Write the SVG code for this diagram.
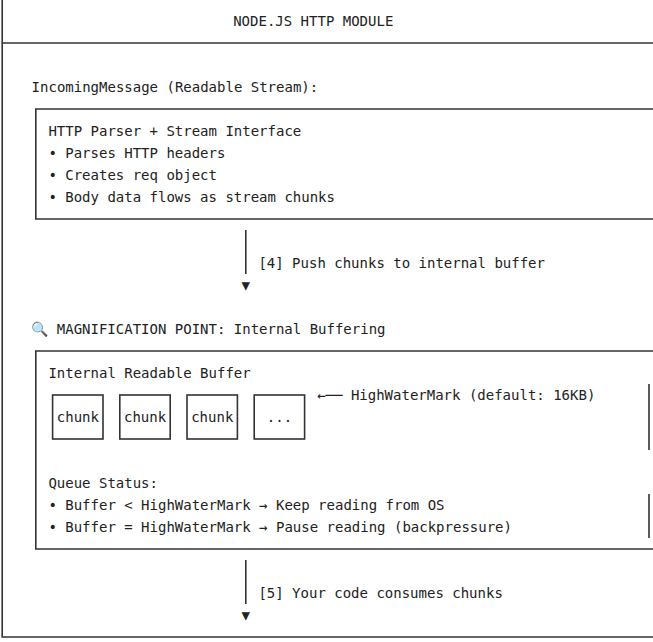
<svg xmlns="http://www.w3.org/2000/svg" width="653" height="642" viewBox="0 0 653 642">
  <style>
    .t { font-family: "DejaVu Sans Mono", "Liberation Mono", monospace; font-size: 14px; fill: #222; }
    .ln { stroke: #333; stroke-width: 1.6; fill: none; }
    .box { stroke: #333; stroke-width: 1.6; fill: none; }
  </style>
  <rect x="0" y="0" width="653" height="642" fill="#ffffff"/>

  <g id="frame">
    <path class="ln" d="M2.2 0 V637 H653"/>
    <path class="ln" d="M2.2 43 H653"/>
  </g>

  <g id="title">
    <text class="t" x="233.2" y="26">NODE.JS HTTP MODULE</text>
  </g>

  <g id="incoming-label">
    <text class="t" x="31.6" y="92">IncomingMessage (Readable Stream):</text>
  </g>

  <g id="parser-box">
    <path class="box" d="M655 109 H35.8 V219 H655"/>
    <text class="t" x="48.4" y="136">HTTP Parser + Stream Interface</text>
    <text class="t" x="48.4" y="158">• Parses HTTP headers</text>
    <text class="t" x="48.4" y="180">• Creates req object</text>
    <text class="t" x="48.4" y="202">• Body data flows as stream chunks</text>
  </g>

  <g id="magnification-label">
    <text class="t" x="31.6" y="334" style="font-family: 'Noto Color Emoji', 'DejaVu Sans', sans-serif;">🔍</text>
    <text class="t" x="56.8" y="334">MAGNIFICATION POINT: Internal Buffering</text>
  </g>

  <g id="buffer-box">
    <path class="box" d="M655 351 H35.8 V549 H655"/>
    <text class="t" x="48.4" y="378">Internal Readable Buffer</text>
    <path class="ln" d="M649 384 V450"/>
    <path class="ln" d="M649 494 V538"/>
    <text class="t" x="48.4" y="488">Queue Status:</text>
    <text class="t" x="48.4" y="510">• Buffer &lt; HighWaterMark → Keep reading from OS</text>
    <text class="t" x="48.4" y="532">• Buffer = HighWaterMark → Pause reading (backpressure)</text>
  </g>

  <g id="chunk-1">
    <rect class="box" x="52.6" y="395" width="50.4" height="44"/>
    <text class="t" x="56.8" y="422">chunk</text>
  </g>
  <g id="chunk-2">
    <rect class="box" x="119.8" y="395" width="50.4" height="44"/>
    <text class="t" x="124" y="422">chunk</text>
  </g>
  <g id="chunk-3">
    <rect class="box" x="187" y="395" width="50.4" height="44"/>
    <text class="t" x="191.2" y="422">chunk</text>
  </g>
  <g id="chunk-more">
    <rect class="box" x="254.2" y="395" width="50.4" height="44"/>
    <text class="t" x="266.8" y="422">...</text>
  </g>

  <g id="highwatermark-label">
    <text class="t" x="317.2" y="400">←── HighWaterMark (default: 16KB)</text>
  </g>

  <g id="connectors">
    <path class="ln" d="M245.8 230 V274"/>
    <text class="t" x="241.6" y="290">▼</text>
    <text class="t" x="258.4" y="268">[4] Push chunks to internal buffer</text>
    <path class="ln" d="M245.8 560 V604"/>
    <text class="t" x="241.6" y="620">▼</text>
    <text class="t" x="258.4" y="598">[5] Your code consumes chunks</text>
  </g>
</svg>
